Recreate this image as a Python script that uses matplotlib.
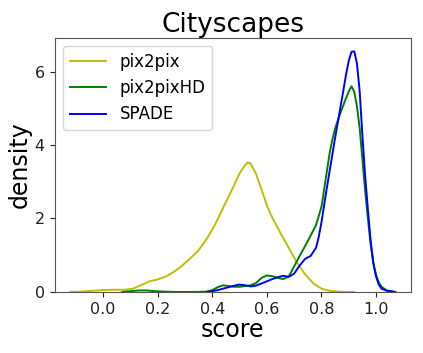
import numpy as np
import matplotlib
matplotlib.use("Agg")
import matplotlib.pyplot as plt

# density curves (score, density)
pix2pix_x = [-0.12, -0.08, -0.04, 0.00, 0.04, 0.08, 0.11, 0.14, 0.17, 0.20, 0.23, 0.26, 0.29,
             0.32, 0.35, 0.38, 0.41, 0.44, 0.47, 0.50, 0.52, 0.53, 0.54, 0.56, 0.58, 0.60,
             0.62, 0.65, 0.68, 0.71, 0.74, 0.77, 0.80, 0.83, 0.86, 0.89, 0.92]
pix2pix_y = [0.00, 0.01, 0.03, 0.05, 0.06, 0.06, 0.09, 0.19, 0.29, 0.34, 0.42, 0.55, 0.72,
             0.92, 1.14, 1.45, 1.83, 2.30, 2.75, 3.23, 3.45, 3.53, 3.50, 3.22, 2.80, 2.35,
             2.02, 1.60, 1.20, 0.80, 0.48, 0.23, 0.09, 0.03, 0.01, 0.00, 0.00]

pix2pixhd_x = [0.07, 0.10, 0.13, 0.16, 0.19, 0.22, 0.26, 0.30, 0.34, 0.38, 0.40, 0.42, 0.44,
               0.46, 0.48, 0.50, 0.52, 0.54, 0.56, 0.58, 0.60, 0.62, 0.64, 0.66, 0.68, 0.70,
               0.72, 0.74, 0.76, 0.78, 0.80, 0.81, 0.82, 0.83, 0.84, 0.85, 0.86, 0.87, 0.88,
               0.89, 0.90, 0.91, 0.92, 0.93, 0.94, 0.95, 0.96, 0.97, 0.98, 0.99, 1.00, 1.01,
               1.02, 1.04, 1.07]
pix2pixhd_y = [0.00, 0.02, 0.04, 0.04, 0.02, 0.01, 0.00, 0.00, 0.00, 0.01, 0.05, 0.13, 0.18,
               0.16, 0.14, 0.14, 0.16, 0.18, 0.24, 0.38, 0.45, 0.43, 0.38, 0.35, 0.42, 0.70,
               0.98, 1.25, 1.53, 1.82, 2.32, 2.80, 3.30, 3.78, 4.15, 4.45, 4.68, 4.88, 5.08,
               5.28, 5.46, 5.60, 5.45, 5.05, 4.45, 3.60, 2.75, 2.00, 1.30, 0.78, 0.46, 0.26,
               0.14, 0.04, 0.00]

spade_x = [0.38, 0.40, 0.42, 0.44, 0.46, 0.48, 0.50, 0.52, 0.54, 0.56, 0.58, 0.60, 0.62,
           0.64, 0.66, 0.68, 0.70, 0.72, 0.74, 0.76, 0.78, 0.79, 0.80, 0.81, 0.82, 0.83,
           0.84, 0.85, 0.86, 0.87, 0.88, 0.89, 0.90, 0.91, 0.92, 0.93, 0.94, 0.95, 0.96,
           0.97, 0.98, 0.99, 1.00, 1.01, 1.02, 1.04, 1.07]
spade_y = [0.00, 0.02, 0.05, 0.09, 0.13, 0.17, 0.20, 0.18, 0.15, 0.17, 0.23, 0.29, 0.35,
           0.40, 0.44, 0.41, 0.50, 0.72, 0.90, 0.98, 1.20, 1.50, 1.90, 2.38, 2.85, 3.30,
           3.75, 4.20, 4.62, 5.05, 5.48, 5.92, 6.30, 6.54, 6.55, 6.22, 5.45, 4.25, 3.15,
           2.25, 1.40, 0.78, 0.42, 0.20, 0.09, 0.03, 0.00]

names = ["pix2pix", "pix2pixHD", "SPADE"]
colors = ["y", "g", "b"]

fig = plt.figure(figsize=(4.23, 3.53), dpi=100)
ax = fig.add_axes([0.129, 0.173, 0.842, 0.720])

for xs, ys, name, c in zip([pix2pix_x, pix2pixhd_x, spade_x],
                           [pix2pix_y, pix2pixhd_y, spade_y], names, colors):
    ax.plot(xs, ys, color=c, lw=1.4, label=name)

ax.set_xlim(-0.178, 1.127)
ax.set_ylim(0, 6.92)
ax.set_xticks([0.0, 0.2, 0.4, 0.6, 0.8, 1.0])
ax.set_yticks([0, 2, 4, 6])
ax.tick_params(labelsize=11.5, colors="#222222")
for s in ax.spines.values():
    s.set_color("#555555")

ax.set_title("Cityscapes", fontsize=19, pad=4)
ax.set_xlabel("score", fontsize=17, labelpad=1)
ax.set_ylabel("density", fontsize=17, labelpad=2)
ax.legend(loc="upper left", fontsize=12, handlelength=2.2, borderaxespad=0.5)

fig.savefig("out.png", dpi=100)
